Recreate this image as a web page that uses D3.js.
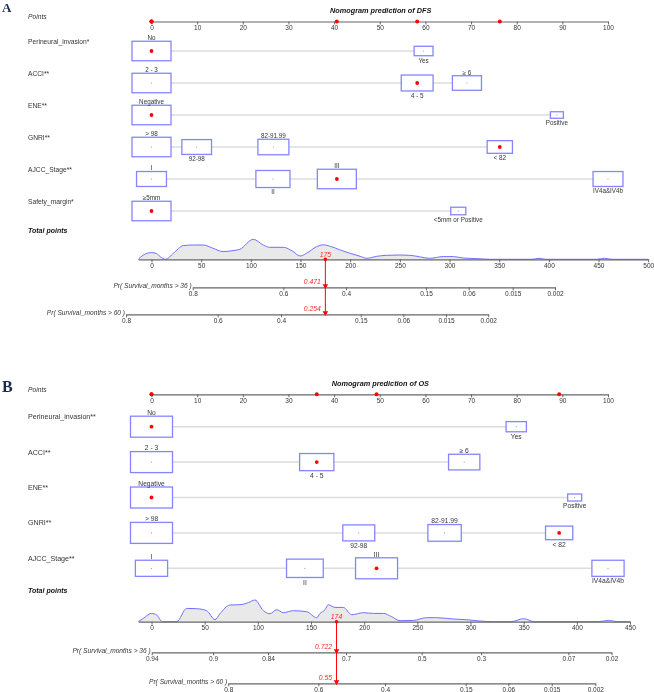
<!DOCTYPE html>
<html>
<head>
<meta charset="utf-8">
<script src="https://cdnjs.cloudflare.com/ajax/libs/d3/7.8.5/d3.min.js"></script>
<style>
  body { margin: 0; background: #fff; }
  svg { display: block; font-family: "Liberation Sans", Arial, sans-serif; }
  .gray-aa { opacity: 0.995; }
</style>
</head>
<body>
<div id="chart"></div>
<script>
// ---------- data: panel A (DFS) ----------
const varsA = ["Perineural_invasion*", "ACCI**", "ENE**", "GNRI**", "AJCC_Stage**", "Safety_margin*"];
const levelsA = [["No", "Yes"], ["2 - 3", "4 - 5", "≥ 6"], ["Negative", "Positive"],
                 ["> 98", "92-98", "82-91.99", "< 82"], ["I", "II", "III", "IV4a&IV4b"],
                 ["≥5mm", "<5mm or Positive"]];
const pointsA = [[0, 59.6], [0, 58.2, 69.1], [0, 88.8], [0, 9.9, 26.7, 76.3], [0, 26.6, 40.6, 100], [0, 67.2]];
const chosenA = [0, 1, 0, 3, 2, 0];
const totalA = 175;
const prob36A = [0.8, 0.6, 0.4, 0.15, 0.06, 0.015, 0.002];
const prob36PtsA = [41.5, 132.7, 195.8, 276.3, 319.3, 363.6, 406.2];
const prob60A = [0.8, 0.6, 0.4, 0.15, 0.06, 0.015, 0.002];
const prob60PtsA = [-25.6, 66.6, 130.4, 210.6, 253.5, 296.5, 339];
const resultA = ["0.471", "0.254"];
const densA = [[-13.3, 0], [-8.2, 4.3], [0, 6.7], [5.2, 5.7], [8.6, 2.7], [14.3, 0], [22, 6], [32, 13.7],
  [42, 14.3], [52, 14.3], [62, 11], [72, 7.7], [82, 8.7], [89, 10], [102.5, 20], [112.5, 14.3], [119, 12],
  [132.7, 12], [142.7, 7.7], [149.5, 3.3], [156, 6], [166, 12.5], [173, 14.5], [180, 13], [190, 9.3],
  [200, 6], [210, 3], [217, 1], [226.7, 3], [236.8, 4], [250, 4.3], [260, 4], [270, 2.5], [280, 1],
  [293.7, 2.7], [303.8, 2.7], [313.9, 1.3], [327.4, 0.7], [340.8, 0], [383, 0], [390, 1], [397, 0],
  [448, 0], [456, 1], [464, 0], [500, 0]];

// ---------- data: panel B (OS) ----------
const varsB = ["Perineural_invasion**", "ACCI**", "ENE**", "GNRI**", "AJCC_Stage**"];
const levelsB = [["No", "Yes"], ["2 - 3", "4 - 5", "≥ 6"], ["Negative", "Positive"],
                 ["> 98", "92-98", "82-91.99", "< 82"], ["I", "II", "III", "IV4a&IV4b"]];
const pointsB = [[0, 79.9], [0, 36.2, 68.5], [0, 92.7], [0, 45.4, 64.2, 89.3], [0, 33.6, 49.3, 100]];
const chosenB = [0, 1, 0, 3, 2];
const totalB = 174;
const prob36B = [0.94, 0.9, 0.84, 0.7, 0.5, 0.3, 0.07, 0.02];
const prob36PtsB = [0.2, 57.9, 109.6, 183, 254.1, 310, 392.1, 432.6];
const prob60B = [0.8, 0.6, 0.4, 0.15, 0.06, 0.015, 0.002];
const prob60PtsB = [72.2, 156.9, 219.6, 295.5, 335.6, 376.4, 417.4];
const resultB = ["0.722", "0.55"];
const densB = [[-12.4, 0], [-7.7, 3.3], [0, 8.3], [4.9, 6.7], [10.2, 0], [23.7, 0], [33.1, 13.3], [42.5, 13],
  [51.9, 11], [59.7, 2], [64.4, 8], [73.8, 16.7], [83.2, 17], [91, 19], [97.3, 21.7], [105.2, 11],
  [111.4, 8], [117.7, 12], [124, 9], [133.4, 11], [145.9, 10], [155.4, 4], [158.5, 8.3], [163.2, 12],
  [166.3, 17], [172.6, 14.3], [180.4, 14.3], [188.3, 7], [199.2, 9], [208.6, 8.3], [218, 8.3], [225.9, 5],
  [233.7, 1], [246.2, 1.3], [258.8, 4], [268.2, 4], [283.8, 2.7], [296.4, 2], [308.9, 0.7], [321.5, 0],
  [338, 0], [350, 3], [360, 0], [420, 0], [430, 1.3], [438, 0], [450, 0]];

// relative frequency of each level (box size), same cohort for both models
const freq = [[0.81, 0.19], [0.45, 0.30, 0.25], [0.9, 0.1], [0.38, 0.22, 0.24, 0.16],
              [0.20, 0.26, 0.34, 0.20], [0.87, 0.13]];

const pointTicks = d3.range(0, 101, 10);

const svg = d3.select("#chart").append("svg")
    .attr("width", 654)
    .attr("height", 692);

function styleAxis(a, fs) {
    a.attr("font-family", null).attr("font-size", fs);
    a.select(".domain").attr("stroke", "#666").attr("stroke-width", 1.2);
    a.selectAll(".tick line").attr("stroke", "#666");
    a.selectAll(".tick text").attr("fill", "#333");
}

function drawPanel(p) {
    const g = svg.append("g").attr("class", "gray-aa");
    const x = d3.scaleLinear().domain([0, 100]).range([151.5, 608]);
    const xt = d3.scaleLinear().domain([0, p.totMax]).range([151.5, p.totRight]);

    g.append("text")
        .attr("x", 2).attr("y", p.letterY)
        .attr("font-family", "'Liberation Serif', 'Times New Roman', serif")
        .attr("font-weight", "bold")
        .attr("font-size", p.letterSize)
        .attr("fill", "#1a2a4a")
        .text(p.letter);

    g.append("text")
        .attr("x", p.titleX).attr("y", p.titleY)
        .attr("font-weight", "bold").attr("font-style", "italic")
        .attr("font-size", 7.3).attr("fill", "#111")
        .text(p.title);

    // Points axis
    g.append("text")
        .attr("x", 28).attr("y", p.ptsY - 2.5)
        .attr("font-style", "italic").attr("font-size", 6.7).attr("fill", "#333")
        .text("Points");

    const ax = g.append("g")
        .attr("transform", `translate(0,${p.ptsY})`)
        .call(d3.axisBottom(x).tickValues(pointTicks).tickSize(3).tickSizeOuter(0).tickPadding(1));
    styleAxis(ax, 6.5);

    // variable rows
    p.vars.forEach((name, i) => {
        const cy = p.row0 + p.rowStep * i;
        const w = d3.scaleSqrt().domain([0, d3.max(p.freq[i])]).range([0, p.maxW]);

        g.append("text")
            .attr("x", 28).attr("y", cy + p.labelOff).attr("dy", "0.35em")
            .attr("font-size", p.varFs).attr("fill", "#333")
            .text(name);

        g.append("line")
            .attr("x1", x(0)).attr("x2", x(d3.max(p.points[i])))
            .attr("y1", cy).attr("y2", cy)
            .attr("stroke", "#dcdcdc").attr("stroke-width", 1.5);

        const lv = p.levels[i].map((l, j) => ({ l: l, pt: p.points[i][j], f: p.freq[i][j], j: j }));
        const cell = g.selectAll(null).data(lv).join("g")
            .attr("transform", d => `translate(${x(d.pt)},${cy})`);

        cell.append("rect")
            .attr("x", d => -w(d.f) / 2)
            .attr("y", d => -w(d.f) * 0.25)
            .attr("width", d => w(d.f))
            .attr("height", d => w(d.f) * 0.5)
            .attr("fill", "#fff")
            .attr("stroke", "#8585ff")
            .attr("stroke-width", 1.3);

        cell.append("circle")
            .attr("r", d => d.j === p.chosen[i] ? 1.9 : 0.6)
            .attr("fill", d => d.j === p.chosen[i] ? "red" : "#999");

        cell.append("text")
            .attr("text-anchor", "middle")
            .attr("y", d => d.j % 2 === 0 ? -w(d.f) * 0.25 - 1.2 : w(d.f) * 0.25 + 2.3)
            .attr("dy", d => d.j % 2 === 0 ? 0 : "0.72em")
            .attr("font-size", p.lvFs).attr("fill", "#333")
            .text(d => d.l);
    });

    // selected points on the Points axis
    g.selectAll(null).data(p.points.map((v, i) => v[p.chosen[i]])).join("circle")
        .attr("cx", d => x(d)).attr("cy", p.ptsY)
        .attr("r", 2).attr("fill", "red");

    // Total points
    g.append("text")
        .attr("x", 28).attr("y", p.totLabelY).attr("dy", "0.35em")
        .attr("font-weight", "bold").attr("font-style", "italic")
        .attr("font-size", 7).attr("fill", "#111")
        .text("Total points");

    const area = d3.area()
        .x(d => xt(d[0]))
        .y0(p.totY)
        .y1(d => p.totY - d[1])
        .curve(d3.curveMonotoneX);
    const line = d3.line()
        .x(d => xt(d[0]))
        .y(d => p.totY - d[1])
        .curve(d3.curveMonotoneX);

    g.append("path").datum(p.dens).attr("d", area).attr("fill", "#e9e9e9");
    g.append("path").datum(p.dens).attr("d", line)
        .attr("fill", "none").attr("stroke", "#6f6fff").attr("stroke-width", 1);

    const xtAxis = d3.scaleLinear()
        .domain([p.dens[0][0], p.totMax])
        .range([xt(p.dens[0][0]), xt(p.totMax)]);
    const at = g.append("g")
        .attr("transform", `translate(0,${p.totY})`)
        .call(d3.axisBottom(xtAxis).tickValues(d3.range(0, p.totMax + 1, 50))
            .tickSize(3).tickSizeOuter(0).tickPadding(1));
    styleAxis(at, 6.5);

    // probability axes
    p.probs.forEach((pr, k) => {
        const y = p.probY[k];
        const n = pr.pts.length - 1;
        const s = d3.scaleLinear()
            .domain([pr.pts[0], pr.pts[n]])
            .range([xt(pr.pts[0]), xt(pr.pts[n])]);
        const a = g.append("g")
            .attr("transform", `translate(0,${y})`)
            .call(d3.axisBottom(s).tickValues(pr.pts)
                .tickFormat((d, i) => String(pr.labels[i]))
                .tickSize(3).tickSizeOuter(0).tickPadding(1));
        styleAxis(a, 6.5);

        g.append("text")
            .attr("x", xt(pr.pts[0]) - 1).attr("y", y).attr("dy", "0.1em")
            .attr("text-anchor", "end")
            .attr("font-style", "italic").attr("font-size", 6.6).attr("fill", "#333")
            .text(pr.title);
    });

    // prediction marker
    const xm = xt(p.total);
    g.append("line")
        .attr("x1", xm).attr("x2", xm)
        .attr("y1", p.totY).attr("y2", p.probY[1])
        .attr("stroke", "red").attr("stroke-width", 1);
    g.append("circle").attr("cx", xm).attr("cy", p.totY).attr("r", 1.8).attr("fill", "red");
    g.selectAll(null).data(p.probY).join("path")
        .attr("d", d3.symbol(d3.symbolTriangle, 14))
        .attr("transform", d => `translate(${xm},${d - 1.5}) rotate(180)`)
        .attr("fill", "red");

    g.append("text")
        .attr("x", xm).attr("y", p.totY - 2.5)
        .attr("text-anchor", "middle")
        .attr("font-style", "italic").attr("font-size", 6.8).attr("fill", "#f22")
        .text(p.total);

    p.result.forEach((r, k) => {
        g.append("text")
            .attr("x", xm - 4.5).attr("y", p.probY[k] - 5.5).attr("dy", "0.35em")
            .attr("text-anchor", "end")
            .attr("font-style", "italic").attr("font-size", 6.8).attr("fill", "#f22")
            .text(r);
    });
}

drawPanel({
    letter: "A", letterY: 12, letterSize: 13,
    title: "Nomogram prediction of DFS", titleX: 330, titleY: 13,
    ptsY: 21.5, row0: 51, rowStep: 32, labelOff: -9, maxW: 39,
    varFs: 6.7, lvFs: 6.3,
    vars: varsA, levels: levelsA, points: pointsA, chosen: chosenA, freq: freq,
    totLabelY: 231, totY: 259.3, totMax: 500, totRight: 648.2,
    dens: densA, total: totalA, result: resultA,
    probY: [287.3, 314.3],
    probs: [
        { title: "Pr( Survival_months > 36 )", labels: prob36A, pts: prob36PtsA },
        { title: "Pr( Survival_months > 60 )", labels: prob60A, pts: prob60PtsA }
    ]
});

drawPanel({
    letter: "B", letterY: 391.5, letterSize: 16,
    title: "Nomogram prediction of OS", titleX: 331.7, titleY: 385.5,
    ptsY: 394.3, row0: 426.7, rowStep: 35.4, labelOff: -10, maxW: 42,
    varFs: 7.1, lvFs: 6.7,
    vars: varsB, levels: levelsB, points: pointsB, chosen: chosenB, freq: freq,
    totLabelY: 590.7, totY: 621.7, totMax: 450, totRight: 630,
    dens: densB, total: totalB, result: resultB,
    probY: [652.3, 683.3],
    probs: [
        { title: "Pr( Survival_months > 36 )", labels: prob36B, pts: prob36PtsB },
        { title: "Pr( Survival_months > 60 )", labels: prob60B, pts: prob60PtsB }
    ]
});
</script>
</body>
</html>
